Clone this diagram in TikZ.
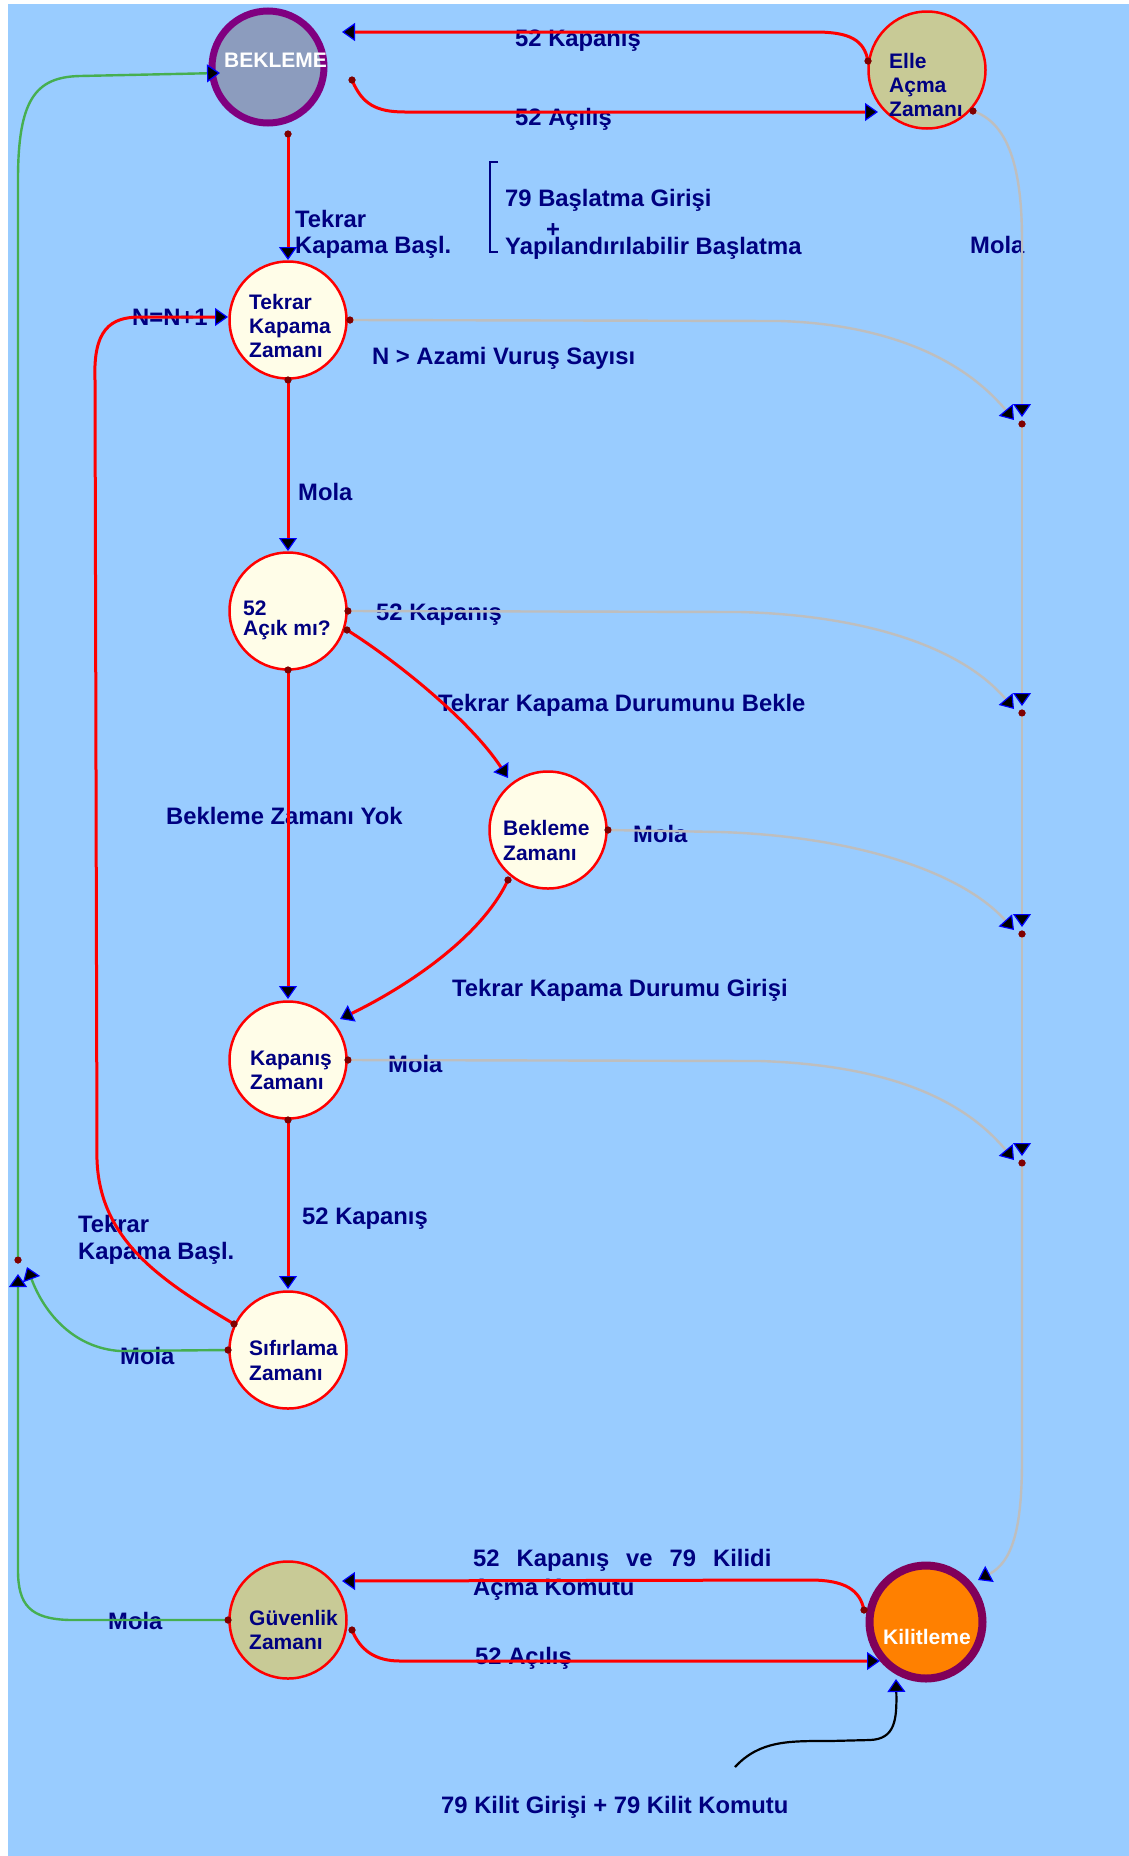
\documentclass[tikz,border=0pt]{standalone}
\usepackage{fontspec}
\setmainfont{Liberation Sans}
\usetikzlibrary{arrows.meta}

\definecolor{sky}{RGB}{153,204,255}
\definecolor{navy}{RGB}{0,0,128}
\definecolor{dotred}{RGB}{128,0,0}
\definecolor{cream}{RGB}{255,253,232}
\definecolor{olive}{RGB}{200,202,150}
\definecolor{slate}{RGB}{140,156,190}
\definecolor{plum}{RGB}{128,0,128}
\definecolor{kplum}{RGB}{128,0,90}
\definecolor{orng}{RGB}{255,128,0}
\definecolor{wire}{RGB}{190,190,190}
\definecolor{grn}{RGB}{70,175,80}

\begin{document}
\begin{tikzpicture}[x=1pt,y=-1pt,
  state/.style={circle, draw=red, line width=2.5pt, fill=cream, minimum size=117pt, inner sep=0pt},
  hub/.style={circle, line width=7pt, minimum size=112pt, inner sep=0pt},
  dot/.style={circle, fill=dotred, minimum size=7pt, inner sep=0pt},
  ntxt/.style={anchor=base west, inner sep=0pt, text=navy, align=left, font=\bfseries\fontsize{21}{24}\selectfont},
  lbl/.style={anchor=base west, inner sep=0pt, text=navy, align=left, font=\bfseries\fontsize{23.8}{27}\selectfont},
  arr/.style={-{Triangle[length=13pt,width=18pt,color=blue,fill=black,line width=1.2pt]}},
  redw/.style={draw=red, line width=3pt},
  grayw/.style={draw=wire, line width=2.4pt},
  grnw/.style={draw=grn, line width=2.4pt},
  blkw/.style={draw=black, line width=2.2pt},
]
% canvas
\fill[white] (0,0) rectangle (1129,1856);
\fill[sky] (8,4) rectangle (1129,1856);
\useasboundingbox (0,0) rectangle (1129,1856);

% states
\node[hub, draw=plum, fill=slate] (bek) at (268,67) {};
\node[state, fill=olive] (elle) at (927,70) {};
\node[state] (tkz) at (288,320) {};
\node[state] (acik) at (288,611) {};
\node[state] (bz) at (548,830) {};
\node[state] (kz) at (288,1060) {};
\node[state] (sz) at (288,1350) {};
\node[state, fill=olive] (gz) at (288,1620) {};
\node[hub, draw=kplum, fill=orng, line width=8pt, minimum size=113pt] (kil) at (926,1622) {};

% state texts (base anchor = baseline of the last line)
\node[ntxt, text=white] (bekT) at (224,67.5) {BEKLEME};
\node[ntxt] (elleT) at (889,116.5) {Elle\\Açma\\Zamanı};
\node[ntxt] (tkzT) at (249,357.5) {Tekrar\\Kapama\\Zamanı};
\node[ntxt, font=\bfseries\fontsize{21}{20}\selectfont] (acikT) at (243,635.5) {52\\Açık mı?};
\node[ntxt, font=\bfseries\fontsize{21}{25}\selectfont] (bzT) at (503,860.5) {Bekleme\\Zamanı};
\node[ntxt] (kzT) at (250,1089.5) {Kapanış\\Zamanı};
\node[ntxt, font=\bfseries\fontsize{21}{25}\selectfont] (szT) at (249,1380.5) {Sıfırlama\\Zamanı};
\node[ntxt] (gzT) at (249,1649.5) {Güvenlik\\Zamanı};
\node[ntxt, text=white] (kilT) at (883,1644.5) {Kilitleme};

% transition labels
\node[lbl] (L1) at (515,46) {52 Kapanış};
\node[lbl] (L2) at (515,125) {52 Açılış};
\node[lbl, font=\bfseries\fontsize{23.8}{26}\selectfont] (L3) at (295,253) {Tekrar\\Kapama Başl.};
\node[lbl] (L4) at (505,206) {79 Başlatma Girişi};
\node[lbl, anchor=center] (L4p) at (553,231) {+};
\node[lbl] (L4b) at (505,254) {Yapılandırılabilir Başlatma};
\draw[navy, line width=2pt] (498,162) -- (490,162) -- (490,252) -- (498,252);
\node[lbl] (L5) at (970,253.5) {Mola};
\node[lbl] (L6) at (372,364) {N > Azami Vuruş Sayısı};
\node[lbl] (L7) at (132,325) {N=N+1};
\node[lbl] (L8) at (298,500.5) {Mola};
\node[lbl] (L9) at (376,620.5) {52 Kapanış};
\node[lbl] (L10) at (438,711.5) {Tekrar Kapama Durumunu Bekle};
\node[lbl] (L11) at (166,824.5) {Bekleme Zamanı Yok};
\node[lbl] (L12) at (633,842.5) {Mola};
\node[lbl] (L13) at (452,996.5) {Tekrar Kapama Durumu Girişi};
\node[lbl] (L14) at (388,1072.5) {Mola};
\node[lbl] (L15) at (302,1224.5) {52 Kapanış};
\node[lbl] (L16) at (78,1259.5) {Tekrar\\Kapama Başl.};
\node[lbl] (L17) at (120,1364.5) {Mola};
\node[lbl] (L18) at (108,1629.5) {Mola};
\node[lbl, font=\bfseries\fontsize{23.8}{29}\selectfont] (L19) at (473,1595.5)
  {52\hspace{17pt}Kapanış\hspace{17pt}ve\hspace{17pt}79\hspace{17pt}Kilidi\\Açma Komutu};
\node[lbl] (L20) at (475,1664.5) {52 Açılış};
\node[lbl] (L21) at (441,1813.5) {79 Kilit Girişi + 79 Kilit Komutu};

% ports where transitions leave a state
\node[dot] (e1) at (868,61) {};
\node[dot] (e2) at (973,111) {};
\node[dot] (b1) at (352,80) {};
\node[dot] (b2) at (288,134) {};
\node[dot] (t1) at (350,320) {};
\node[dot] (t2) at (288,380) {};
\node[dot] (a1) at (348,611) {};
\node[dot] (a2) at (347,630) {};
\node[dot] (a3) at (288,670) {};
\node[dot] (w1) at (608,830) {};
\node[dot] (w2) at (508,880) {};
\node[dot] (k1) at (348,1060) {};
\node[dot] (k2) at (288,1120) {};
\node[dot] (s1) at (234,1324) {};
\node[dot] (s2) at (228,1350) {};
\node[dot] (g1) at (228,1620) {};
\node[dot] (g2) at (352,1630) {};
\node[dot] (l1) at (864,1610) {};
\node[dot] (d1) at (1022,424) {};
\node[dot] (d2) at (1022,713) {};
\node[dot] (d3) at (1022,934) {};
\node[dot] (d4) at (1022,1163) {};
\node[dot] (lb) at (18,1260) {};

% arrival points
\coordinate (bekIn1) at (342,32);
\coordinate (bekIn2) at (220,73);
\coordinate (elleIn) at (878,112);
\coordinate (tkzTop) at (288,260);
\coordinate (tkzLeft) at (228,317);
\coordinate (acikTop) at (288,551);
\coordinate (bzIn) at (508,778);
\coordinate (kzTop) at (288,999);
\coordinate (kzIn) at (340,1019);
\coordinate (szTop) at (288,1289);
\coordinate (gzIn) at (342,1581);
\coordinate (kilIn1) at (880,1661);
\coordinate (kilIn2) at (896,1679);
\coordinate (kilIn3) at (978,1580);
\coordinate (lockSrc) at (735,1767);
\coordinate (j1) at (1022,417);
\coordinate (j2) at (1022,706);
\coordinate (j3) at (1022,927);
\coordinate (j4) at (1022,1156);
\coordinate (q1) at (1014,420);
\coordinate (q2) at (1014,709);
\coordinate (q3) at (1014,930);
\coordinate (q4) at (1014,1160);
\coordinate (up1) at (18,1274);
\coordinate (up2) at (27,1267);

% red transitions
\draw[redw, arr] (e1.center) .. controls (864,40) and (850,32) .. (815,32) -- (bekIn1);
\draw[redw, arr] (b1.center) .. controls (362,104) and (376,112) .. (405,112) -- (elleIn);
\draw[redw, arr] (b2.center) -- (tkzTop);
\draw[redw, arr] (t2.center) -- (acikTop);
\draw[redw, arr] (a2.center) .. controls (395,660) and (470,720) .. (bzIn);
\draw[redw, arr] (a3.center) -- (kzTop);
\draw[redw, arr] (w2.center) .. controls (480,940) and (400,990) .. (kzIn);
\draw[redw, arr] (k2.center) -- (szTop);
\draw[redw, arr] (s1.center) .. controls (160,1280) and (100,1240) .. (97,1160)
  -- (95,380) .. controls (93,330) and (110,317) .. (140,317) -- (tkzLeft);
\draw[redw, arr] (l1.center) .. controls (860,1590) and (845,1580) .. (810,1580) -- (gzIn);
\draw[redw, arr] (g2.center) .. controls (360,1650) and (375,1661) .. (400,1661) -- (kilIn1);

% grey break transitions and their collector line
\draw[grayw, arr] (e2.center) .. controls (1005,122) and (1022,160) .. (1022,240) -- (j1);
\draw[grayw, arr] (t1.center) -- (780,321) .. controls (880,324) and (960,355) .. (q1);
\draw[grayw, arr] (a1.center) -- (740,612) .. controls (860,615) and (960,645) .. (q2);
\draw[grayw, arr] (w1.center) -- (720,832) .. controls (850,836) and (960,870) .. (q3);
\draw[grayw, arr] (k1.center) -- (760,1061) .. controls (880,1065) and (960,1095) .. (q4);
\draw[grayw, arr] (d1.center) -- (j2);
\draw[grayw, arr] (d2.center) -- (j3);
\draw[grayw, arr] (d3.center) -- (j4);
\draw[grayw, arr] (d4.center) -- (1022,1460) .. controls (1022,1530) and (1012,1562) .. (kilIn3);

% green return path
\draw[grnw, arr] (g1.center) -- (70,1620) .. controls (30,1619) and (18,1605) .. (18,1570) -- (up1);
\draw[grnw, arr] (s2.center) -- (120,1351) .. controls (75,1348) and (45,1315) .. (up2);
\draw[grnw, arr] (lb.center) -- (18,180) .. controls (18,100) and (35,77) .. (80,76) -- (bekIn2);

% lock command
\draw[blkw, arr] (lockSrc) .. controls (760,1740) and (790,1741) .. (830,1741) -- (870,1740)
  .. controls (895,1739) and (897,1720) .. (kilIn2);

% ports on top of the wires
\foreach \p in {e1,e2,b1,b2,t1,t2,a1,a2,a3,w1,w2,k1,k2,s1,s2,g1,g2,l1,d1,d2,d3,d4,lb}
  \fill[dotred] (\p) circle (3.5pt);
\end{tikzpicture}
\end{document}
